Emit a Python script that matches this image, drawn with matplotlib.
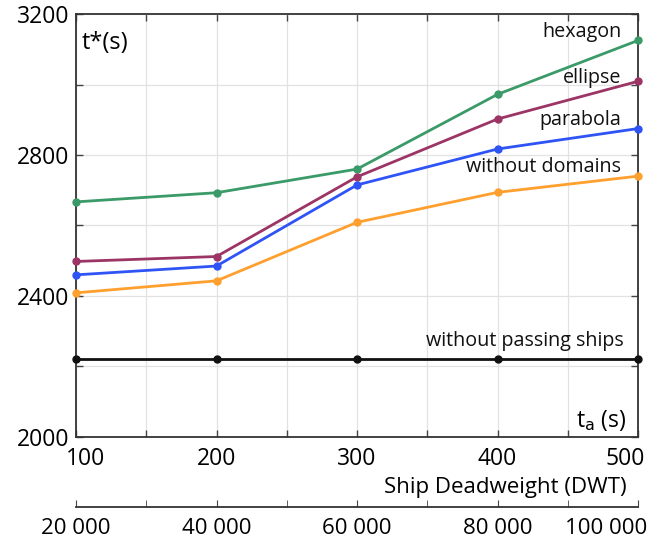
import matplotlib
matplotlib.use("Agg")
import matplotlib.pyplot as plt
import matplotlib.transforms as mtransforms
from matplotlib.ticker import MultipleLocator, FuncFormatter

plt.rcParams['font.family'] = ['Open Sans', 'DejaVu Sans']

ta = [100, 200, 300, 400, 500]
hexagon = [2667, 2693, 2760, 2972, 3125]
ellipse = [2498, 2512, 2738, 2902, 3009]
parabola = [2460, 2485, 2715, 2817, 2875]
without_domains = [2409, 2443, 2609, 2694, 2740]
without_passing = [2222, 2222, 2222, 2222, 2222]
dwt_ticks = [20000, 40000, 60000, 80000, 100000]

series = [
    ("hexagon", hexagon, "#3a9a68", (488, 3149)),
    ("ellipse", ellipse, "#9c3566", (488, 3018)),
    ("parabola", parabola, "#2f54f5", (488, 2899)),
    ("without domains", without_domains, "#ffa02e", (488, 2766)),
    ("without passing ships", without_passing, "#111111", (490, 2272)),
]

fig = plt.figure(figsize=(6.64, 5.38), dpi=100)
ax = fig.add_axes([76/664, 1-437/538, 562/664, 423/538])

for name, vals, col, (tx, ty) in series:
    ax.plot(ta, vals, color=col, lw=2, marker='o', ms=5, zorder=3, clip_on=False)
    ax.text(tx, ty, name, ha='right', va='center', fontsize=14.2, color='#111111')

ax.set_xlim(100, 500)
ax.set_ylim(2000, 3200)
ax.set_xticks(ta)
ax.xaxis.set_minor_locator(MultipleLocator(50))
ax.yaxis.set_major_locator(MultipleLocator(400))
ax.yaxis.set_minor_locator(MultipleLocator(200))
ax.grid(True, which='both', color='#e2e2e2', lw=0.9, zorder=0)
ax.tick_params(which='both', direction='in', top=True, right=True, length=5,
               color='#444444', labelsize=16.5, width=1)
ax.tick_params(axis='x', pad=7)
ax.tick_params(axis='y', pad=5)
for s in ax.spines.values():
    s.set_color('#333333')
    s.set_linewidth(1.3)

ax.text(104, 3118, "t*(s)", ha='left', va='center', fontsize=17)
ax.text(492, 2048, r"t$_{\mathrm{a}}$ (s)", ha='right', va='center', fontsize=16.5)

ax2 = fig.add_axes([76/664, 1-507/538, 562/664, 0.0001])
ax2.set_xlim(20000, 100000)
ax2.set_yticks([])
for k in ['top', 'left', 'right']:
    ax2.spines[k].set_visible(False)
ax2.spines['bottom'].set_color('#333333')
ax2.spines['bottom'].set_linewidth(1.3)
ax2.set_xticks(dwt_ticks)
ax2.xaxis.set_minor_locator(MultipleLocator(10000))
ax2.xaxis.set_major_formatter(FuncFormatter(lambda v, p: f"{int(v):,}".replace(",", " ")))
ax2.tick_params(which='both', direction='in', length=5, color='#444444', labelsize=16, pad=8)
ax2.patch.set_visible(False)

fig.canvas.draw()

def shift(lbl, ha, dx_px):
    lbl.set_horizontalalignment(ha)
    lbl.set_transform(lbl.get_transform() + mtransforms.ScaledTranslation(dx_px/100, 0, fig.dpi_scale_trans))

xl = ax.get_xticklabels()
shift(xl[0], 'left', -10)
shift(xl[-1], 'right', 7)
shift(ax2.get_xticklabels()[-1], 'right', 9)

fig.text(627/664, 1-487/538, "Ship Deadweight (DWT)", ha='right', va='center', fontsize=16)

fig.savefig("out.png", dpi=100)
